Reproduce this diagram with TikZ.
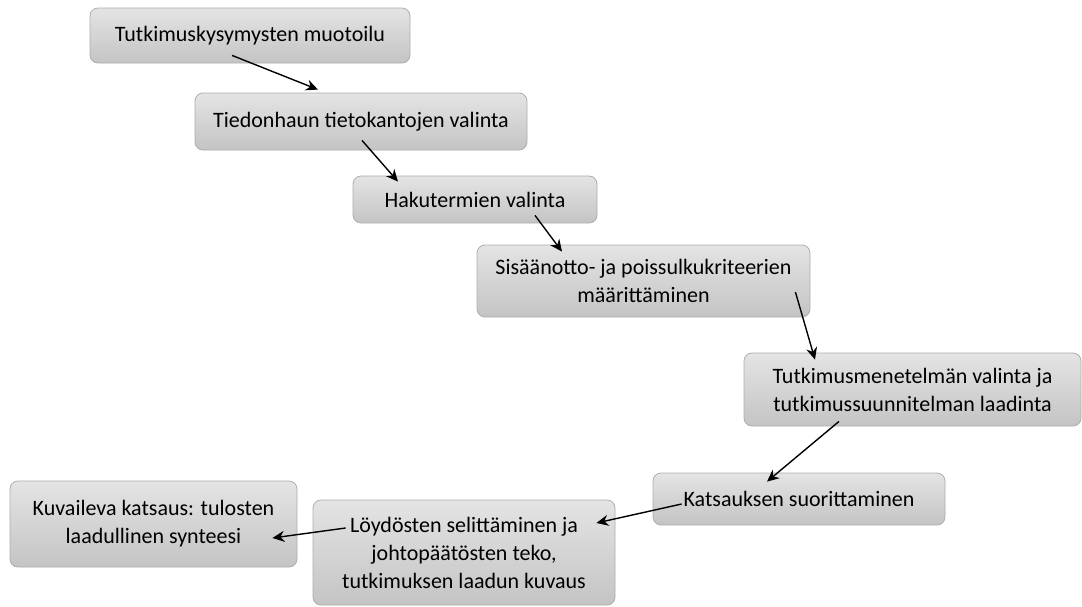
\documentclass[tikz,border=0pt]{standalone}
\usepackage{fontspec}
\setmainfont{Carlito}
\usepackage{tikz}
\usetikzlibrary{arrows.meta, positioning, calc}

\definecolor{boxtop}{HTML}{E4E4E4}
\definecolor{boxbot}{HTML}{C4C4C4}
\definecolor{boxline}{HTML}{ADADAD}

\begin{document}
\begin{tikzpicture}[
  x=0.5pt, y=-0.5pt,
  every node/.style={font=\fontsize{11}{14}\selectfont},
  box/.style={rectangle, draw=boxline, rounded corners=4pt, top color=boxtop, bottom color=boxbot, align=center, inner sep=0pt},
  rel/.style={line width=0.7pt, -{Stealth[length=6pt, width=5.5pt]}},
]
  \useasboundingbox (0,0) rectangle (1082,606);

  % Vaiheet
  \node[box, minimum width=160pt, minimum height=27.5pt] (kysymys) at (250, 35.5) {Tutkimuskysymysten muotoilu};
  \node[box, minimum width=166pt, minimum height=28.5pt] (tietokanta) at (361, 121.5) {Tiedonhaun tietokantojen valinta};
  \node[box, minimum width=122pt, minimum height=23.5pt] (termit) at (475, 199.5) {Hakutermien valinta};
  \node[box, minimum width=166.5pt, minimum height=36pt] (kriteerit) at (643.5, 281) {Sisäänotto- ja poissulkukriteerien\\määrittäminen};
  \node[box, minimum width=168.5pt, minimum height=36.5pt] (menetelma) at (912.5, 389.5) {Tutkimusmenetelmän valinta ja\\tutkimussuunnitelman laadinta};
  \node[box, minimum width=146pt, minimum height=26pt] (suoritus) at (799, 499) {Katsauksen suorittaminen};
  \node[box, minimum width=151pt, minimum height=52.5pt] (loydokset) at (464, 552.5) {Löydösten selittäminen ja\\johtopäätösten teko,\\tutkimuksen laadun kuvaus};
  \node[box, minimum width=143.5pt, minimum height=43pt] (synteesi) at (153.5, 524) {Kuvaileva katsaus: tulosten\\laadullinen synteesi};

  % Nuolet
  \draw[rel] ([shift={(-18,-8)}]kysymys.south) -- ([shift={(-43,-3)}]tietokanta.north);
  \draw[rel] ([shift={(1,-10)}]tietokanta.south) -- ([shift={(-77,6)}]termit.north);
  \draw[rel] ([shift={(60,-8)}]termit.south) -- ([shift={(-81.5,7)}]kriteerit.north);
  \draw[rel] ([shift={(-15,11)}]kriteerit.east) -- ([shift={(-97.5,7)}]menetelma.north);
  \draw[rel] ([shift={(-73.5,-5)}]menetelma.south) -- ([shift={(-32,9)}]suoritus.north);
  \draw[rel] ([shift={(29,5)}]suoritus.west) -- ([shift={(-19,-29.5)}]loydokset.east);
  \draw[rel] ([shift={(33,-24.5)}]loydokset.west) -- ([shift={(-25,14)}]synteesi.east);
\end{tikzpicture}
\end{document}
